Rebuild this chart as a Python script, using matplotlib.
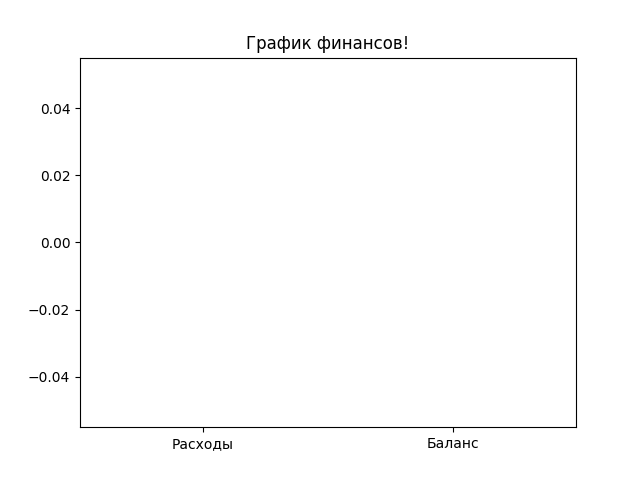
import matplotlib
matplotlib.use("Agg")
import matplotlib.pyplot as plt

# Категории и значения (все нулевые)
categories = ["Расходы", "Баланс"]
values = [0, 0]

fig, ax = plt.subplots(figsize=(6.4, 4.8), dpi=100)
ax.bar(categories, values)
ax.set_title("График финансов!")

fig.savefig("out.png")
